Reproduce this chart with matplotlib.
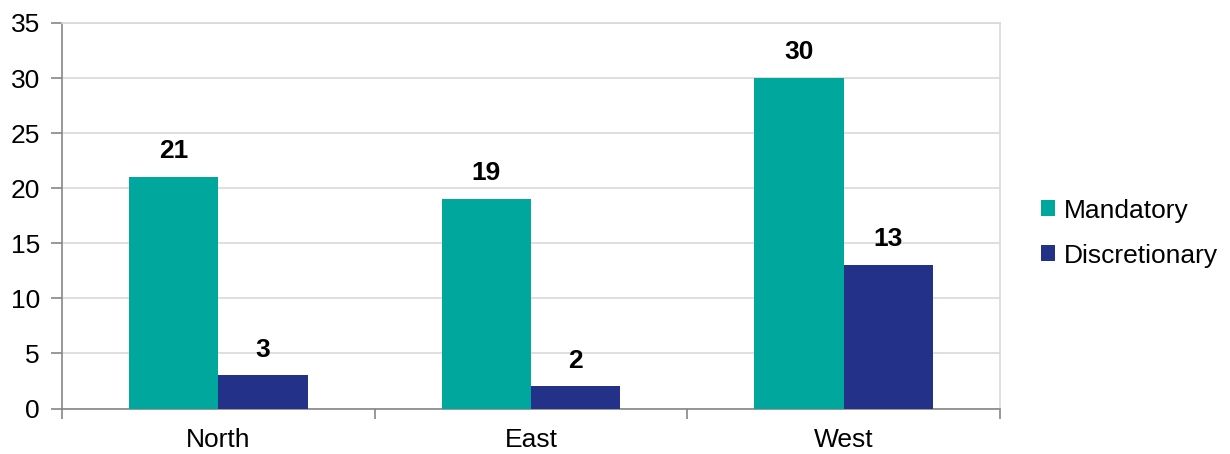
import matplotlib
matplotlib.use("Agg")
import matplotlib.pyplot as plt
import numpy as np

categories = ["North", "East", "West"]
mandatory = [21, 19, 30]
discretionary = [3, 2, 13]
series_names = ["Mandatory", "Discretionary"]
colors = ["#00A79D", "#243189"]

plt.rcParams['font.family'] = ['Liberation Sans', 'DejaVu Sans']

fig = plt.figure(figsize=(12.3, 4.54), dpi=100)
ax = fig.add_axes([62/1230, 1 - 408.5/454, (1000-62)/1230, (408.5-23)/454])

x = np.arange(len(categories))
w = 1/3.5
b1 = ax.bar(x - w/2, mandatory, w, color=colors[0], label=series_names[0], zorder=3)
b2 = ax.bar(x + w/2, discretionary, w, color=colors[1], label=series_names[1], zorder=3)

for bars, vals in ((b1, mandatory), (b2, discretionary)):
    for r, v in zip(bars, vals):
        ax.annotate(str(v), (r.get_x() + r.get_width()/2, v), xytext=(0, 10),
                    textcoords="offset points", ha="center", va="bottom",
                    fontsize=19, fontweight="bold", color="black")

ax.set_xlim(-0.5, len(categories) - 0.5)
ax.set_ylim(0, 35)
ax.set_yticks(range(0, 36, 5))
ax.yaxis.grid(True, color="#D9D9D9", linewidth=1.2, zorder=0)
ax.set_xticks(x)
ax.set_xticklabels(categories)
ax.set_xticks(np.arange(-0.5, len(categories)), minor=True)
ax.tick_params(axis="x", which="major", length=0, labelsize=19, pad=14)
ax.tick_params(axis="x", which="minor", length=7, width=1.2, color="#868686", direction="out")
ax.tick_params(axis="y", length=8, width=1.2, color="#868686", labelsize=19, pad=8)

for s in ("left", "bottom"):
    ax.spines[s].set_color("#868686")
    ax.spines[s].set_linewidth(1.2)
for s in ("top", "right"):
    ax.spines[s].set_color("#D9D9D9")
    ax.spines[s].set_linewidth(1.2)

ax.legend(loc="center left", bbox_to_anchor=(1.024, 0.455), frameon=False, fontsize=19,
          handlelength=0.55, handleheight=0.55, handletextpad=0.3, labelspacing=0.8,
          borderaxespad=0.3)

fig.savefig("out.png", dpi=100)
